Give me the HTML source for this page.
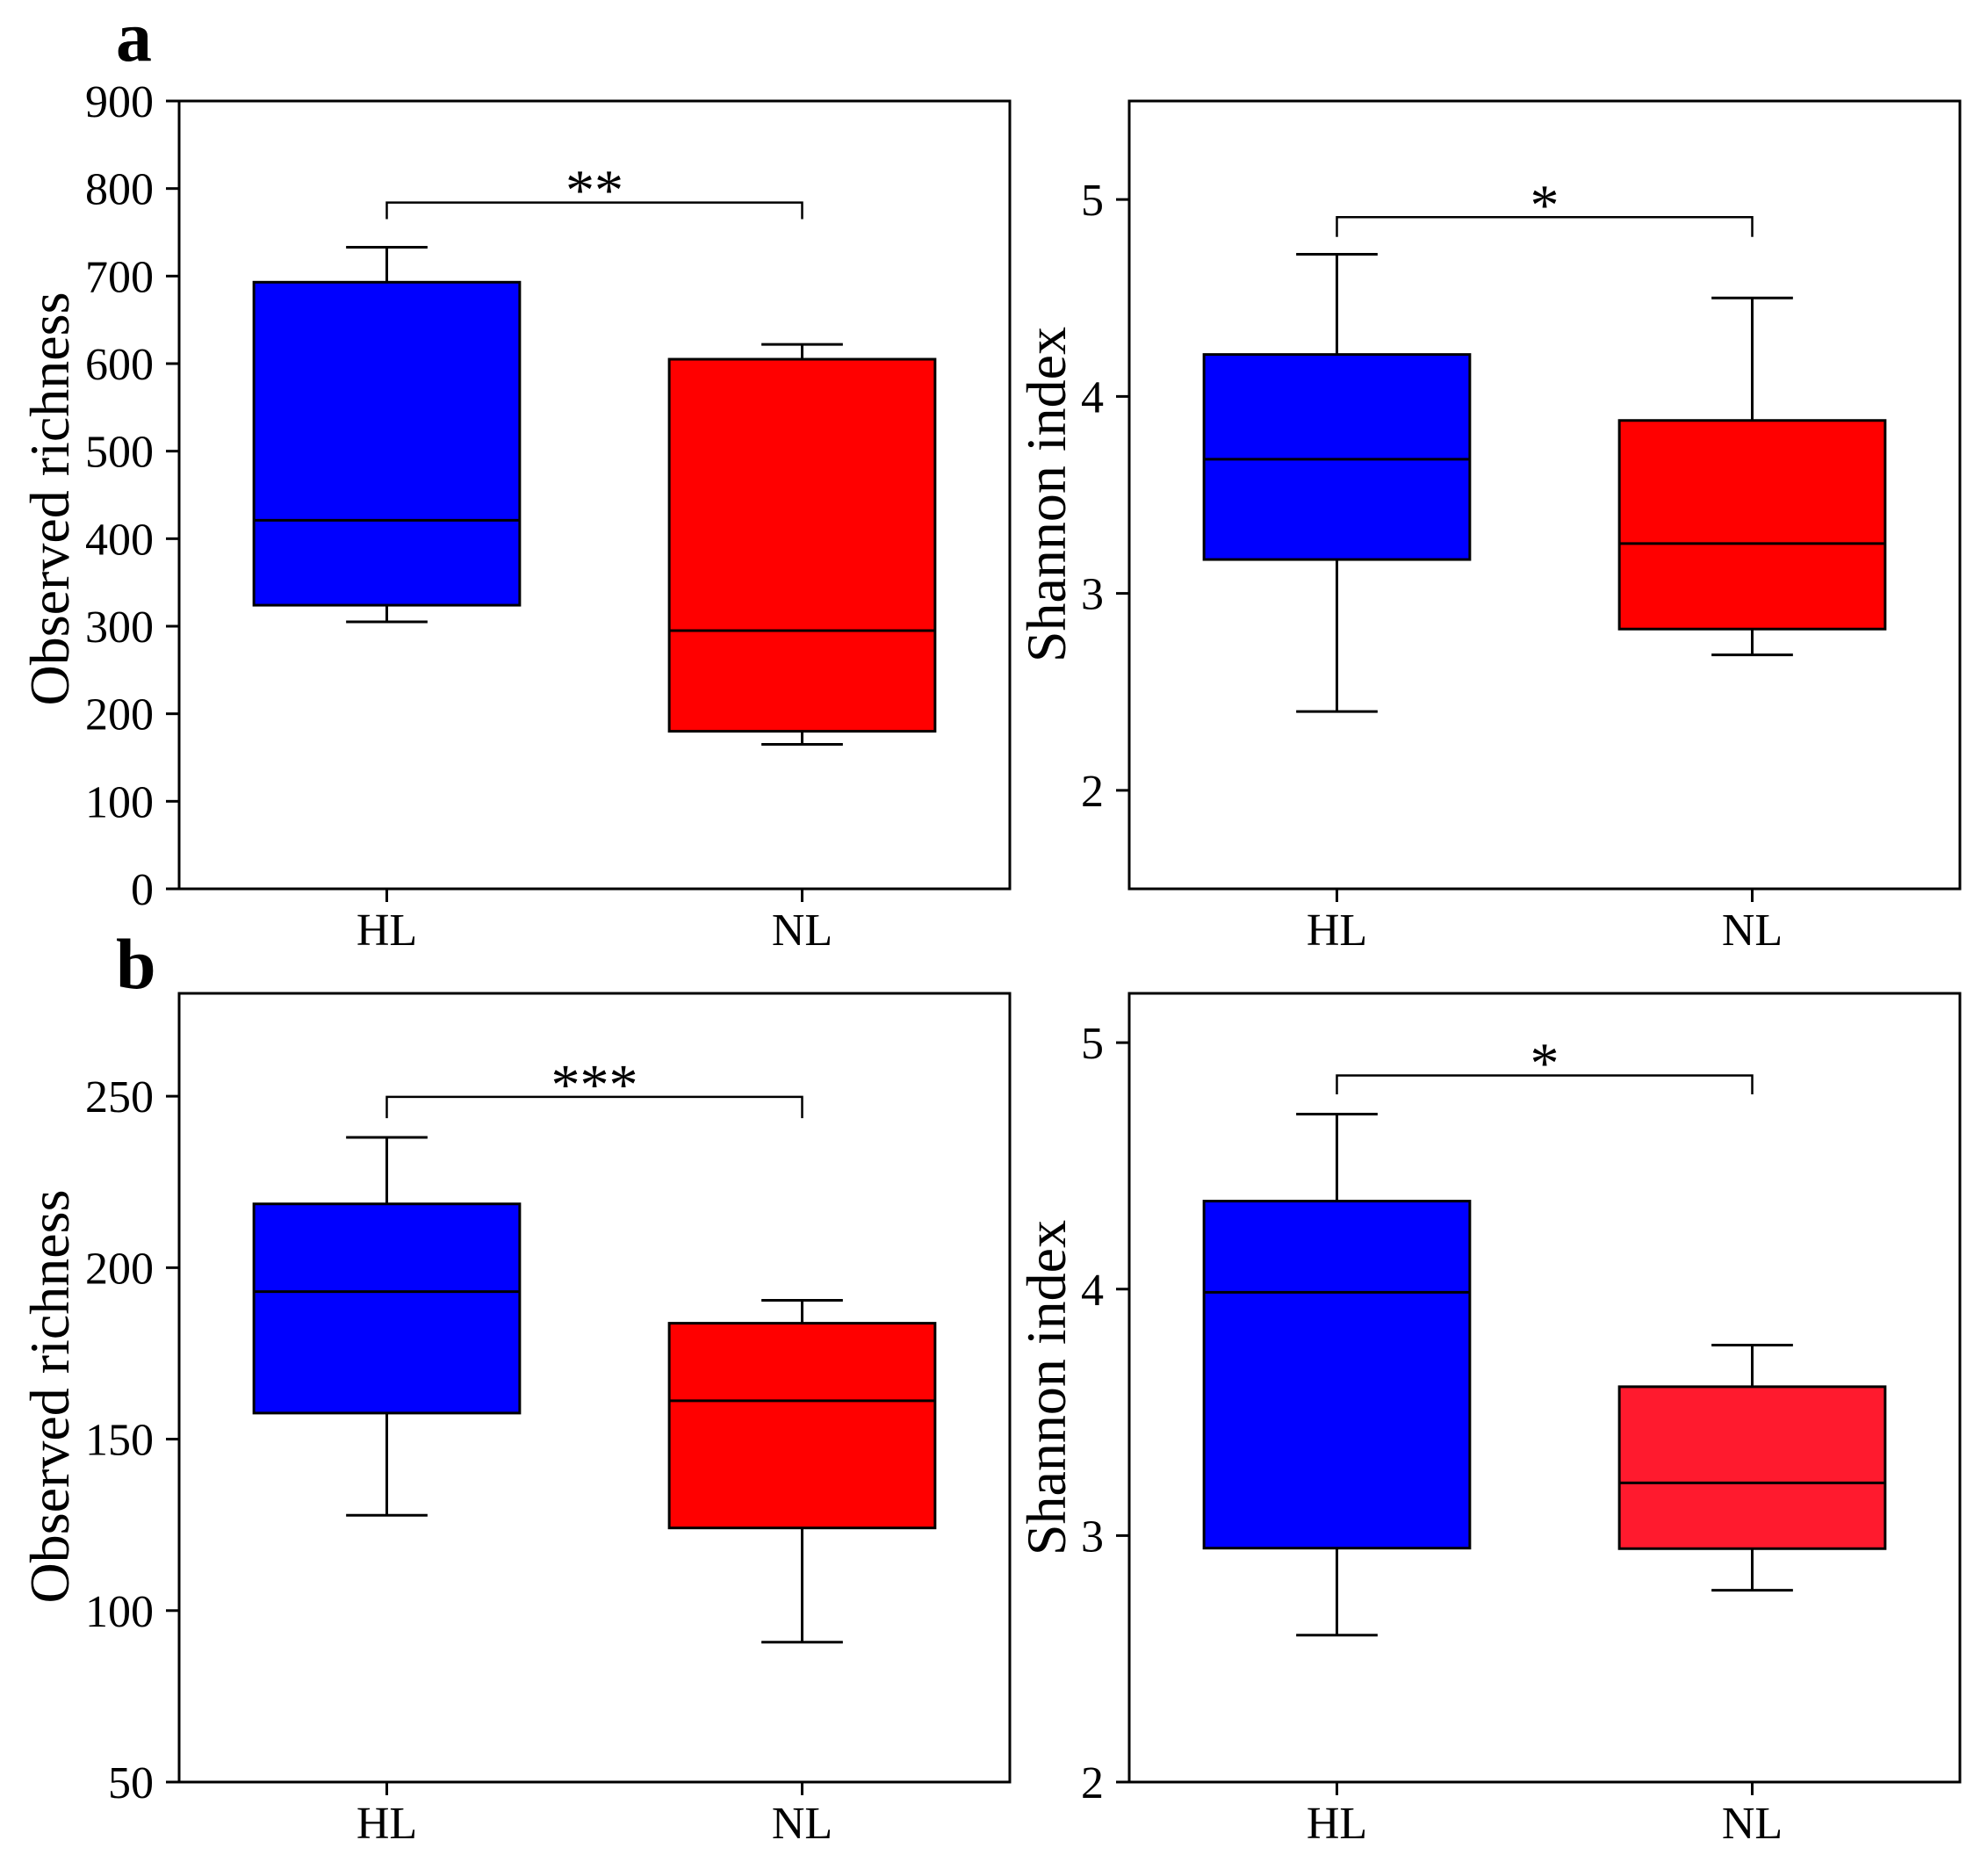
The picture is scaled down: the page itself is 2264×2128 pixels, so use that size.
<!DOCTYPE html>
<html><head><meta charset="utf-8"><style>
html,body{margin:0;padding:0;background:#fff;}
svg{display:block;}
text{font-family:"Liberation Serif","Times New Roman",serif;fill:#000;}
</style></head><body>
<svg id="fig" width="2264" height="2128" viewBox="0 0 2264 2128" xmlns="http://www.w3.org/2000/svg">
<text x="132" y="69" font-size="82" font-weight="bold">a</text>
<text x="132" y="1125" font-size="82" font-weight="bold">b</text>
</svg>
<script>
const categories = ["HL", "NL"];
// panel a-left: Observed richness
const aRichQ1 = [324, 180];
const aRichMed = [421, 295];
const aRichQ3 = [693, 605];
const aRichWlo = [305, 165];
const aRichWhi = [733, 622];
const aRichTicks = [0, 100, 200, 300, 400, 500, 600, 700, 800, 900];
// panel a-right: Shannon
const aShQ1 = [3.172, 2.819];
const aShMed = [3.681, 3.253];
const aShQ3 = [4.213, 3.878];
const aShWlo = [2.40, 2.688];
const aShWhi = [4.722, 4.50];
const aShTicks = [2, 3, 4, 5];
// panel b-left: Observed richness
const bRichQ1 = [157.6, 124.1];
const bRichMed = [193, 161.2];
const bRichQ3 = [218.6, 183.8];
const bRichWlo = [127.8, 90.8];
const bRichWhi = [238, 190.5];
const bRichTicks = [50, 100, 150, 200, 250];
// panel b-right: Shannon
const bShQ1 = [2.949, 2.947];
const bShMed = [3.987, 3.214];
const bShQ3 = [4.357, 3.604];
const bShWlo = [2.596, 2.778];
const bShWhi = [4.71, 3.773];
const bShTicks = [2, 3, 4, 5];
const sigLabels = ["**", "*", "***", "*"];
const sigLevels = [784, 4.91, 249.8, 4.867];
const sigDrops = [765, 4.81, 243.6, 4.79];

const NS = "http://www.w3.org/2000/svg";
const svg = document.getElementById("fig");
function mk(tag, attrs, parent) {
  const e = document.createElementNS(NS, tag);
  for (const k in attrs) e.setAttribute(k, attrs[k]);
  (parent || svg).appendChild(e);
  return e;
}
function panel(cfg) {
  const g = mk("g", {});
  
  
  const L = cfg.x0, R = cfg.x1, T = cfg.y0, B = cfg.y1;
  const y = v => B - (v - cfg.min) / (cfg.max - cfg.min) * (B - T);
  const x = i => L + (R - L) * (0.25 + 0.5 * i);
  const bw = (R - L) * 0.16, cw = (R - L) * 0.049;
  for (let i = 0; i < categories.length; i++) {
    const cx = x(i);
    const wh = mk("line", {x1: cx, x2: cx, y1: y(cfg.whi[i]), y2: y(cfg.q3[i]), stroke: "#000", "stroke-width": 3}, g);
    
    
    const wl = mk("line", {x1: cx, x2: cx, y1: y(cfg.q1[i]), y2: y(cfg.wlo[i]), stroke: "#000", "stroke-width": 3}, g);
    
    
    const c1 = mk("line", {x1: cx - cw, x2: cx + cw, y1: y(cfg.whi[i]), y2: y(cfg.whi[i]), stroke: "#000", "stroke-width": 3}, g);
    
    
    const c2 = mk("line", {x1: cx - cw, x2: cx + cw, y1: y(cfg.wlo[i]), y2: y(cfg.wlo[i]), stroke: "#000", "stroke-width": 3}, g);
    
    
    const box = mk("rect", {x: cx - bw, y: y(cfg.q3[i]), width: 2 * bw, height: y(cfg.q1[i]) - y(cfg.q3[i]), fill: cfg.colors[i], stroke: "#000", "stroke-width": 3}, g);
    
    
    const md = mk("line", {x1: cx - bw, x2: cx + bw, y1: y(cfg.med[i]), y2: y(cfg.med[i]), stroke: "#000", "stroke-width": 3}, g);
    
    
  }
  const fr = mk("rect", {x: L, y: T, width: R - L, height: B - T, fill: "none", stroke: "#000", "stroke-width": 3}, g);
  
  
  cfg.ticks.forEach(t => {
    const tl = mk("line", {x1: L - 15, x2: L, y1: y(t), y2: y(t), stroke: "#000", "stroke-width": 3}, g);
    
    
    const tx = mk("text", {x: L - 29, y: y(t) + 18, "font-size": 52, "text-anchor": "end"}, g);
    tx.textContent = t;
    
    
  });
  categories.forEach((c, i) => {
    const tl = mk("line", {x1: x(i), x2: x(i), y1: B, y2: B + 15, stroke: "#000", "stroke-width": 3}, g);
    
    
    const tx = mk("text", {x: x(i), y: B + 64, "font-size": 52, "text-anchor": "middle"}, g);
    tx.textContent = c;
    
    
  });
  const yt = mk("text", {x: 0, y: 0, "font-size": cfg.tsize, "text-anchor": "middle", transform: "translate(" + cfg.tx + "," + cfg.ty + ") rotate(-90)"}, g);
  yt.textContent = cfg.title;
  
  
  const sy = y(sigLevels[cfg.k]), dy = y(sigDrops[cfg.k]);
  const br = mk("path", {d: "M" + x(0) + "," + dy + " L" + x(0) + "," + sy + " L" + x(1) + "," + sy + " L" + x(1) + "," + dy, fill: "none", stroke: "#000", "stroke-width": 2.5}, g);
  
  
  const st = mk("text", {x: (x(0) + x(1)) / 2, y: sy + 8, "font-size": 66, "text-anchor": "middle"}, g);
  st.textContent = sigLabels[cfg.k];
  
  
}
panel({name: "panel-a-richness", k: 0, x0: 204, x1: 1150, y0: 115, y1: 1012, min: 0, max: 900, ticks: aRichTicks,
  q1: aRichQ1, med: aRichMed, q3: aRichQ3, wlo: aRichWlo, whi: aRichWhi, colors: ["#0000ff", "#ff0000"],
  title: "Observed richness", tsize: 64, tx: 78, ty: 568});
panel({name: "panel-a-shannon", k: 1, x0: 1286, x1: 2232, y0: 115, y1: 1012, min: 1.5, max: 5.5, ticks: aShTicks,
  q1: aShQ1, med: aShMed, q3: aShQ3, wlo: aShWlo, whi: aShWhi, colors: ["#0000ff", "#ff0000"],
  title: "Shannon index", tsize: 64, tx: 1213, ty: 563});
panel({name: "panel-b-richness", k: 2, x0: 204, x1: 1150, y0: 1131, y1: 2029, min: 50, max: 280, ticks: bRichTicks,
  q1: bRichQ1, med: bRichMed, q3: bRichQ3, wlo: bRichWlo, whi: bRichWhi, colors: ["#0000ff", "#ff0000"],
  title: "Observed richness", tsize: 64, tx: 78, ty: 1590});
panel({name: "panel-b-shannon", k: 3, x0: 1286, x1: 2232, y0: 1131, y1: 2029, min: 2, max: 5.2, ticks: bShTicks,
  q1: bShQ1, med: bShMed, q3: bShQ3, wlo: bShWlo, whi: bShWhi, colors: ["#0000ff", "#ff1a2e"],
  title: "Shannon index", tsize: 64, tx: 1213, ty: 1580});
</script>
</body></html>
